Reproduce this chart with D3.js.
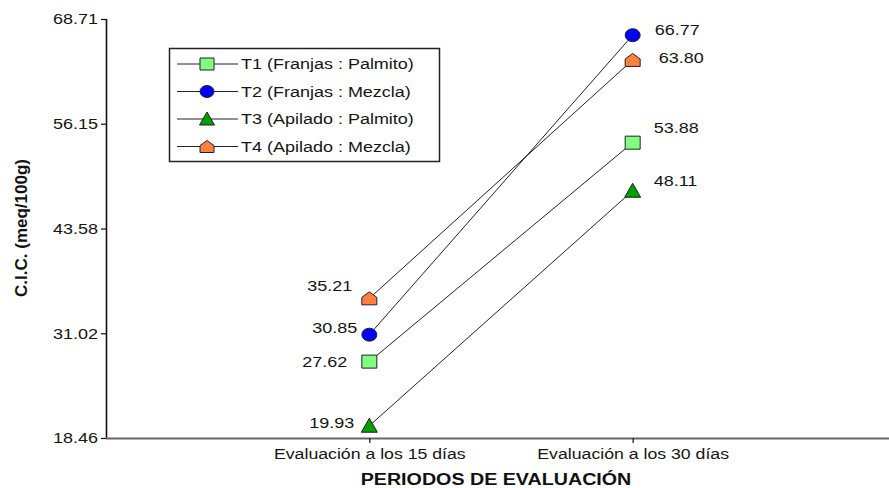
<!DOCTYPE html>
<html>
<head>
<meta charset="utf-8">
<script src="https://cdn.jsdelivr.net/npm/d3@7"></script>
<style>
  html, body { margin: 0; padding: 0; background: #fff; }
  svg { display: block; font-family: "Liberation Sans", Arial, sans-serif; }
</style>
</head>
<body>
<svg id="chart" width="889" height="488"></svg>
<script>
// Periods on the x axis
const categories = ["Evaluación a los 15 días", "Evaluación a los 30 días"];

// Treatments
const seriesNames = [
  "T1 (Franjas : Palmito)",
  "T2 (Franjas : Mezcla)",
  "T3 (Apilado : Palmito)",
  "T4 (Apilado : Mezcla)"
];

// C.I.C. values (meq/100g) per treatment, one per period
const t1Values = [27.62, 53.88];
const t2Values = [30.85, 66.77];
const t3Values = [19.93, 48.11];
const t4Values = [35.21, 63.80];

// Y axis tick labels
const yTicks = [18.46, 31.02, 43.58, 56.15, 68.71];

const seriesValues = [t1Values, t2Values, t3Values, t4Values];

// ---- styling / layout ----
const colors = ["#80ff80", "#0000ff", "#00a000", "#ff8040"];
const shapes = ["square", "circle", "triangle", "house"];
const stretchX = 1.2;   // text is drawn slightly widened
const textColor = "#151515";

// value label placement relative to each marker: [dx, dy, anchor]
const labelPlacement = [
  [[-22, 0, "end"], [21, -15, "start"]],
  [[-12, -7, "end"], [22, -6, "start"]],
  [[-15, -3, "end"], [21, -10, "start"]],
  [[-17, -13, "end"], [26, -2, "start"]]
];

const svg = d3.select("#chart");
const plotLeft = 106, plotTop = 19, plotBottom = 438;

const x = d3.scalePoint().domain(categories).range([plotLeft, 896]).padding(1);
const y = d3.scaleLinear().domain([yTicks[0], yTicks[yTicks.length - 1]]).range([plotBottom, plotTop]);

// widen a text element horizontally about its anchor point
function widen(sel, k) {
  sel.each(function () {
    const t = d3.select(this);
    const tx = +t.attr("x") || 0;
    t.attr("x", 0).attr("transform", `translate(${tx},0) scale(${k},1)`);
  });
}

function markerPath(shape, w, h) {
  const a = w / 2, b = h / 2;
  switch (shape) {
    case "square":
      return `M${-a},${-b}H${a}V${b}H${-a}Z`;
    case "circle":
      return `M${-a},0A${a},${b} 0 1,0 ${a},0A${a},${b} 0 1,0 ${-a},0Z`;
    case "triangle":
      return `M0,${-b - 1}L${a + 0.5},${b}H${-a - 0.5}Z`;
    case "house":
      return `M0,${-b}L${a},${-b * 0.15}V${b}H${-a}V${-b * 0.15}Z`;
  }
}

// ---- axes ----
const yAxis = svg.append("g")
  .attr("transform", `translate(${plotLeft},0)`)
  .call(d3.axisLeft(y).tickValues(yTicks).tickFormat(d3.format(".2f")).tickSize(5).tickPadding(3));
yAxis.select(".domain").attr("stroke", "#111").attr("stroke-width", 1.6).attr("d", `M0.5,${plotTop}V${plotBottom}`);
yAxis.selectAll(".tick line").attr("stroke", "#111").attr("stroke-width", 1.2);
yAxis.selectAll(".tick text")
  .attr("fill", textColor).attr("font-size", 15).attr("font-family", "Liberation Sans, Arial, sans-serif")
  .call(widen, stretchX);

const xAxis = svg.append("g")
  .attr("transform", `translate(0,${plotBottom})`)
  .call(d3.axisBottom(x).tickSize(5).tickPadding(5));
xAxis.select(".domain").attr("stroke", "#666").attr("stroke-width", 2).attr("d", `M${plotLeft},0.5H889`);
xAxis.selectAll(".tick line").attr("stroke", "#111").attr("stroke-width", 1.2);
xAxis.selectAll(".tick text")
  .attr("fill", textColor).attr("font-size", 15).attr("font-family", "Liberation Sans, Arial, sans-serif")
  .call(widen, 1.18);

// axis titles
svg.append("text")
  .attr("x", 0).attr("y", 0)
  .attr("transform", `translate(496,485) scale(1.23,1)`)
  .attr("text-anchor", "middle")
  .attr("font-size", 16).attr("font-weight", "bold").attr("fill", "#111")
  .text("PERIODOS DE EVALUACIÓN");

svg.append("text")
  .attr("transform", `translate(27,228) rotate(-90)`)
  .attr("text-anchor", "middle")
  .attr("font-size", 17).attr("font-weight", "bold").attr("fill", "#111")
  .text("C.I.C. (meq/100g)");

// ---- series ----
const line = d3.line().x((d, i) => x(categories[i])).y(d => y(d));

seriesValues.forEach((vals, s) => {
  svg.append("path")
    .attr("d", line(vals))
    .attr("fill", "none").attr("stroke", "#222").attr("stroke-width", 1);
});

seriesValues.forEach((vals, s) => {
  const g = svg.append("g");
  g.selectAll("path.marker").data(vals).join("path")
    .attr("class", "marker")
    .attr("transform", (d, i) => `translate(${x(categories[i])},${y(d)})`)
    .attr("d", markerPath(shapes[s], 15, 13))
    .attr("fill", colors[s]).attr("stroke", "#222").attr("stroke-width", 1);

  g.selectAll("text").data(vals).join("text")
    .attr("x", 0).attr("y", 0).attr("dy", "0.36em")
    .attr("transform", (d, i) => {
      const p = labelPlacement[s][i];
      return `translate(${x(categories[i]) + p[0]},${y(d) + p[1]}) scale(1.2,1)`;
    })
    .attr("text-anchor", (d, i) => labelPlacement[s][i][2])
    .attr("font-size", 15).attr("fill", textColor)
    .text(d => d3.format(".2f")(d));
});

// ---- legend ----
const legend = svg.append("g");
legend.append("rect")
  .attr("x", 169.5).attr("y", 48.5).attr("width", 270).attr("height", 113)
  .attr("fill", "#fff").attr("stroke", "#222").attr("stroke-width", 1.5);

seriesNames.forEach((name, s) => {
  const ry = 64 + s * 27.5;
  legend.append("line")
    .attr("x1", 177).attr("x2", 238).attr("y1", ry).attr("y2", ry)
    .attr("stroke", "#222").attr("stroke-width", 1);
  legend.append("path")
    .attr("transform", `translate(207,${ry})`)
    .attr("d", markerPath(shapes[s], 14, 12))
    .attr("fill", colors[s]).attr("stroke", "#222").attr("stroke-width", 1);
  legend.append("text")
    .attr("x", 0).attr("y", 0).attr("dy", "0.36em")
    .attr("transform", `translate(241,${ry}) scale(1.2,1)`)
    .attr("font-size", 15).attr("fill", textColor)
    .text(name);
});
</script>
</body>
</html>
